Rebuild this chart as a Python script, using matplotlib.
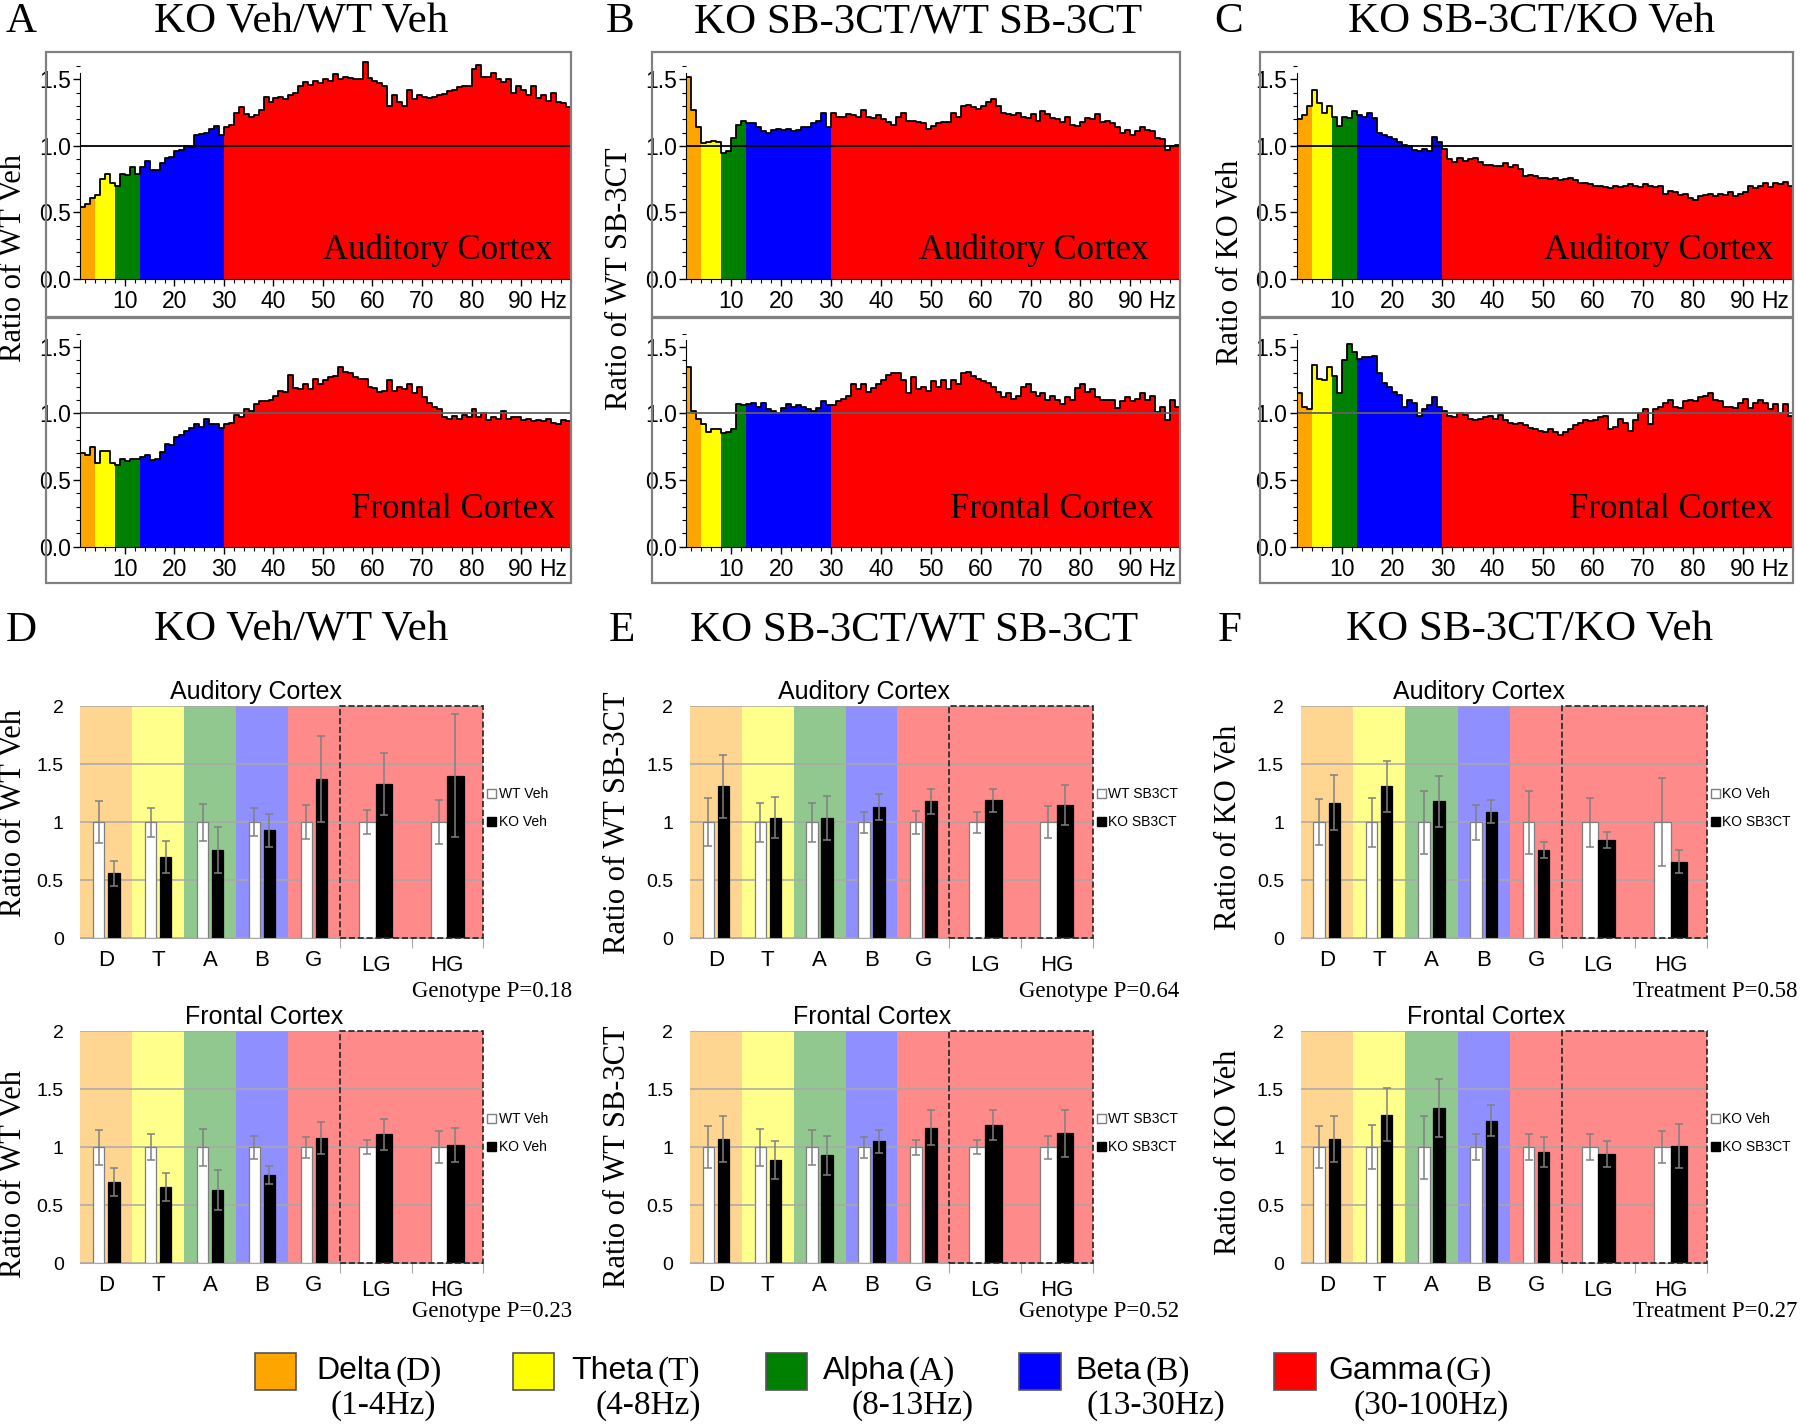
import numpy as np
import matplotlib
matplotlib.use('Agg')
import matplotlib.pyplot as plt
from matplotlib.patches import Rectangle, Patch
from matplotlib.ticker import MultipleLocator, FixedLocator

SERIF = 'Liberation Serif'
SANS = 'Liberation Sans'
plt.rcParams['font.family'] = [SANS, 'DejaVu Sans']

# ---------------- data ----------------
freqs = np.arange(1, 100)          # 1 Hz bins, 1..100 Hz
band_edges = [1, 4, 8, 13, 30, 100]
band_names = ['Delta', 'Theta', 'Alpha', 'Beta', 'Gamma']
band_letters = ['(D)', '(T)', '(A)', '(B)', '(G)']
band_ranges = ['(1-4Hz)', '(4-8Hz)', '(8-13Hz)', '(13-30Hz)', '(30-100Hz)']
band_colors = ['#ffa500', '#ffff00', '#008000', '#0000ff', '#ff0000']
band_light = ['#ffd691', '#ffff8c', '#90c890', '#8f8fff', '#ff8a8a']

a_aud = [0.54, 0.56, 0.61, 0.63, 0.75, 0.79, 0.72, 0.70, 0.79, 0.78,
         0.84, 0.79, 0.84, 0.89, 0.82, 0.82, 0.87, 0.91, 0.92, 0.96,
         0.97, 1.00, 0.99, 1.08, 1.09, 1.10, 1.13, 1.15, 1.08, 1.14,
         1.16, 1.25, 1.29, 1.24, 1.22, 1.23, 1.27, 1.37, 1.33, 1.36,
         1.37, 1.35, 1.38, 1.40, 1.45, 1.48, 1.46, 1.49, 1.47, 1.50,
         1.49, 1.54, 1.50, 1.52, 1.51, 1.50, 1.50, 1.63, 1.51, 1.49,
         1.47, 1.45, 1.30, 1.38, 1.33, 1.30, 1.42, 1.35, 1.38, 1.37,
         1.36, 1.37, 1.38, 1.39, 1.41, 1.42, 1.44, 1.45, 1.45, 1.58,
         1.61, 1.52, 1.52, 1.55, 1.50, 1.48, 1.50, 1.40, 1.45, 1.42,
         1.38, 1.45, 1.36, 1.38, 1.34, 1.40, 1.33, 1.32, 1.29]
a_fro = [0.70, 0.69, 0.75, 0.63, 0.72, 0.72, 0.63, 0.61, 0.66, 0.64,
         0.66, 0.66, 0.67, 0.69, 0.65, 0.66, 0.71, 0.77, 0.76, 0.82,
         0.84, 0.87, 0.89, 0.92, 0.90, 0.96, 0.92, 0.92, 0.89, 0.92,
         0.93, 0.99, 0.97, 1.03, 1.02, 1.07, 1.09, 1.09, 1.10, 1.13,
         1.17, 1.16, 1.29, 1.19, 1.18, 1.22, 1.18, 1.26, 1.22, 1.25,
         1.27, 1.28, 1.35, 1.31, 1.30, 1.27, 1.26, 1.26, 1.20, 1.19,
         1.16, 1.17, 1.25, 1.17, 1.20, 1.18, 1.22, 1.15, 1.20, 1.12,
         1.08, 1.05, 1.03, 0.97, 0.96, 0.98, 0.96, 0.99, 0.97, 1.03,
         0.97, 1.00, 0.95, 0.97, 0.96, 1.02, 0.96, 0.97, 0.97, 0.95,
         0.96, 0.94, 0.95, 0.94, 0.96, 0.93, 0.92, 0.95, 0.94]
b_aud = [1.52, 1.27, 1.14, 1.02, 1.03, 1.04, 1.03, 0.95, 0.96, 1.06,
         1.16, 1.19, 1.17, 1.17, 1.14, 1.11, 1.10, 1.12, 1.13, 1.12,
         1.13, 1.11, 1.12, 1.14, 1.14, 1.17, 1.19, 1.25, 1.14, 1.25,
         1.22, 1.22, 1.24, 1.23, 1.22, 1.27, 1.22, 1.21, 1.23, 1.20,
         1.18, 1.16, 1.22, 1.25, 1.19, 1.19, 1.18, 1.17, 1.13, 1.15,
         1.17, 1.18, 1.18, 1.25, 1.22, 1.30, 1.31, 1.29, 1.28, 1.30,
         1.33, 1.35, 1.30, 1.25, 1.24, 1.23, 1.25, 1.22, 1.21, 1.24,
         1.19, 1.26, 1.24, 1.21, 1.20, 1.18, 1.22, 1.16, 1.15, 1.18,
         1.21, 1.20, 1.24, 1.18, 1.19, 1.17, 1.14, 1.10, 1.12, 1.08,
         1.11, 1.14, 1.12, 1.11, 1.06, 1.05, 0.97, 1.00, 1.01]
b_fro = [1.35, 1.02, 0.96, 0.92, 0.86, 0.88, 0.88, 0.85, 0.86, 0.88,
         1.07, 1.06, 1.07, 1.08, 1.05, 1.08, 1.03, 1.02, 1.00, 1.04,
         1.07, 1.05, 1.06, 1.05, 1.03, 1.02, 1.04, 1.09, 1.06, 1.06,
         1.09, 1.11, 1.13, 1.22, 1.18, 1.22, 1.16, 1.19, 1.22, 1.25,
         1.29, 1.30, 1.30, 1.25, 1.15, 1.27, 1.18, 1.20, 1.17, 1.24,
         1.20, 1.25, 1.18, 1.25, 1.22, 1.30, 1.31, 1.28, 1.26, 1.24,
         1.23, 1.20, 1.16, 1.12, 1.15, 1.11, 1.13, 1.20, 1.22, 1.16,
         1.13, 1.15, 1.10, 1.13, 1.10, 1.07, 1.12, 1.10, 1.19, 1.22,
         1.16, 1.18, 1.12, 1.10, 1.10, 1.10, 1.04, 1.09, 1.12, 1.09,
         1.11, 1.15, 1.10, 1.13, 1.01, 1.05, 0.95, 1.10, 1.05]
c_aud = [1.20, 1.23, 1.30, 1.42, 1.32, 1.25, 1.30, 1.22, 1.15, 1.22,
         1.21, 1.26, 1.23, 1.22, 1.25, 1.21, 1.10, 1.08, 1.07, 1.05,
         1.03, 1.01, 1.00, 0.97, 0.96, 0.98, 0.96, 1.07, 1.03, 0.98,
         0.90, 0.88, 0.91, 0.89, 0.90, 0.91, 0.88, 0.86, 0.86, 0.85,
         0.85, 0.87, 0.84, 0.86, 0.83, 0.77, 0.78, 0.77, 0.76, 0.76,
         0.75, 0.76, 0.74, 0.75, 0.76, 0.74, 0.72, 0.72, 0.71, 0.70,
         0.70, 0.69, 0.68, 0.70, 0.69, 0.70, 0.71, 0.70, 0.69, 0.71,
         0.70, 0.69, 0.70, 0.64, 0.66, 0.65, 0.63, 0.64, 0.61, 0.59,
         0.62, 0.63, 0.64, 0.62, 0.64, 0.63, 0.65, 0.62, 0.64, 0.65,
         0.70, 0.68, 0.70, 0.72, 0.69, 0.72, 0.71, 0.73, 0.70]
c_fro = [1.15, 1.05, 1.03, 1.36, 1.26, 1.25, 1.35, 1.28, 1.15, 1.40,
         1.52, 1.46, 1.41, 1.42, 1.42, 1.43, 1.30, 1.23, 1.20, 1.16,
         1.14, 1.05, 1.10, 1.08, 0.98, 1.03, 1.06, 1.12, 1.05, 1.02,
         0.98, 0.97, 1.00, 0.99, 0.96, 0.95, 0.96, 0.97, 0.98, 0.96,
         0.99, 0.95, 0.93, 0.92, 0.93, 0.91, 0.89, 0.88, 0.87, 0.86,
         0.88, 0.86, 0.84, 0.86, 0.88, 0.91, 0.93, 0.95, 0.94, 0.95,
         0.97, 0.98, 0.88, 0.90, 0.96, 0.93, 0.87, 0.95, 1.00, 1.03,
         0.92, 1.03, 1.05, 1.08, 1.10, 1.05, 1.04, 1.09, 1.10, 1.09,
         1.12, 1.13, 1.15, 1.10, 1.09, 1.05, 1.05, 1.04, 1.08, 1.11,
         1.04, 1.08, 1.10, 1.08, 1.03, 1.07, 1.00, 1.07, 0.98]

bar_cats = ['D', 'T', 'A', 'B', 'G', 'LG', 'HG']
ctl_vals = [1.0, 1.0, 1.0, 1.0, 1.0, 1.0, 1.0]

d_aud_ctl_err = [0.18, 0.125, 0.16, 0.12, 0.145, 0.105, 0.19]
d_aud_vals = [0.56, 0.70, 0.76, 0.93, 1.37, 1.33, 1.40]
d_aud_err = [0.11, 0.14, 0.20, 0.14, 0.37, 0.27, 0.53]
d_fro_ctl_err = [0.15, 0.11, 0.16, 0.10, 0.09, 0.06, 0.14]
d_fro_vals = [0.70, 0.66, 0.63, 0.76, 1.08, 1.11, 1.02]
d_fro_err = [0.12, 0.12, 0.17, 0.08, 0.14, 0.13, 0.15]

e_aud_ctl_err = [0.205, 0.17, 0.17, 0.09, 0.10, 0.09, 0.14]
e_aud_vals = [1.31, 1.04, 1.04, 1.13, 1.18, 1.19, 1.15]
e_aud_err = [0.27, 0.18, 0.19, 0.11, 0.11, 0.10, 0.17]
e_fro_ctl_err = [0.18, 0.16, 0.15, 0.09, 0.065, 0.06, 0.10]
e_fro_vals = [1.07, 0.89, 0.93, 1.05, 1.17, 1.19, 1.12]
e_fro_err = [0.20, 0.16, 0.17, 0.10, 0.15, 0.13, 0.20]

f_aud_ctl_err = [0.20, 0.21, 0.27, 0.15, 0.27, 0.21, 0.38]
f_aud_vals = [1.17, 1.31, 1.18, 1.09, 0.76, 0.85, 0.66]
f_aud_err = [0.24, 0.22, 0.22, 0.10, 0.07, 0.07, 0.10]
f_fro_ctl_err = [0.18, 0.19, 0.27, 0.11, 0.11, 0.11, 0.14]
f_fro_vals = [1.07, 1.28, 1.34, 1.23, 0.96, 0.94, 1.01]
f_fro_err = [0.20, 0.23, 0.25, 0.13, 0.13, 0.11, 0.19]

# ---------------- layout helpers (reference layout units) ----------------
W, H = 1568.0, 1240.0
def fx(x):
    return x / W
def fy(y):
    return 1 - y / H

fig = plt.figure(figsize=(18, 14.24), dpi=100)
fig.patch.set_facecolor('white')


def draw_spectrum(ax, vals, hline_color, region, rx, ry):
    vals = np.asarray(vals)
    idx = np.searchsorted(band_edges, freqs, side='right') - 1
    cols = [band_colors[i] for i in idx]
    ax.bar(freqs, vals, width=1.0, align='edge', color=cols, linewidth=0)
    ax.step(np.append(freqs, 100), np.append(vals, vals[-1]), where='post',
            color='black', lw=1.3)
    ax.axhline(1.0, color=hline_color, lw=1.3)
    ax.set_xlim(1, 100)
    ax.set_ylim(0, 1.664)
    for s in ['top', 'right']:
        ax.spines[s].set_visible(False)
    ax.spines['left'].set_bounds(0, 1.55)
    ax.set_yticks([0, 0.5, 1.0, 1.5])
    ax.set_yticklabels(['0.0', '0.5', '1.0', '1.5'])
    ax.yaxis.set_minor_locator(MultipleLocator(0.1))
    ax.set_xticks([10, 20, 30, 40, 50, 60, 70, 80, 90])
    ax.set_xticklabels(['10', '20', '30', '40', '50', '60', '70', '80', '90'])
    ax.xaxis.set_minor_locator(FixedLocator(list(range(2, 101, 2))))
    ax.tick_params(which='major', length=5, width=1, labelsize=16.5, pad=3)
    ax.tick_params(axis='y', which='major', pad=2)
    ax.tick_params(which='minor', length=3, width=0.8)
    ax.annotate('Hz', xy=(93.6, 0), xycoords='data', xytext=(0, -8),
                textcoords='offset points', fontsize=16.5, ha='left', va='top',
                annotation_clip=False)
    ax.text(rx, ry, region, transform=ax.transAxes, fontsize=25,
            family=SERIF, ha='right', va='center')


spec_panels = [
    ('A', 'KO Veh/WT Veh', 'Ratio of WT Veh', a_aud, a_fro,
     70, 497, 40, 5, 262, 12, 225, (0.962, 0.970)),
    ('B', 'KO SB-3CT/WT SB-3CT', 'Ratio of WT SB-3CT', b_aud, b_fro,
     598, 1028, 568, 528, 800, 540, 243, (0.935, 0.947)),
    ('C', 'KO SB-3CT/KO Veh', 'Ratio of KO Veh', c_aud, c_fro,
     1130, 1562, 1098, 1058, 1334, 1072, 228, (0.960, 0.960)),
]

for (let, title, ylab, aud, fro, x0, x1, bx, lx, tx, ylx, yly, rxs) in spec_panels:
    for (top_px, y0_px) in [(45, 276), (277, 508)]:
        fig.add_artist(Rectangle((fx(bx), fy(y0_px)), fx(x1) - fx(bx),
                                 fy(top_px) - fy(y0_px), transform=fig.transFigure,
                                 fill=False, ec='#808080', lw=1.6))
    ax1 = fig.add_axes([fx(x0), fy(243), fx(x1) - fx(x0), fy(50) - fy(243)])
    draw_spectrum(ax1, aud, 'black', 'Auditory Cortex', rxs[0], 0.13)
    ax2 = fig.add_axes([fx(x0), fy(476), fx(x1) - fx(x0), fy(283) - fy(476)])
    draw_spectrum(ax2, fro, '#606060', 'Frontal Cortex', rxs[1], 0.166)
    fig.text(fx(lx), fy(19), let, fontsize=31, family=SERIF, ha='left', va='center')
    fig.text(fx(tx), fy(19), title, fontsize=31, family=SERIF, ha='center', va='center')
    fig.text(fx(ylx), fy(yly), ylab, fontsize=22, family=SERIF, rotation=90,
             ha='center', va='center')

# ---------------- bar panels ----------------
gx = np.array([0, 1, 2, 3, 4, 5.19, 6.57])
bw = np.array([0.22, 0.22, 0.22, 0.22, 0.22, 0.32, 0.32])
boff = np.array([0.145, 0.145, 0.145, 0.145, 0.145, 0.16, 0.16])
x_end = 4.5 + 2 * 1.383


def draw_bars(ax, ctl_err, vals, err, labels, leg_y):
    spans = [(-0.5, 0.5), (0.5, 1.5), (1.5, 2.5), (2.5, 3.5), (3.5, x_end)]
    for (a, b), c in zip(spans, band_light):
        ax.axvspan(a, b, color=c, lw=0, zorder=0.1)
    ax.bar(gx - boff, ctl_vals, width=bw, color='white', edgecolor='#7f7f7f',
           lw=0.9, zorder=2, yerr=ctl_err,
           error_kw=dict(ecolor='#808080', elinewidth=1.1, capsize=3, capthick=1.1))
    ax.bar(gx + boff, vals, width=bw, color='black', edgecolor='black',
           lw=0.9, zorder=2, yerr=err,
           error_kw=dict(ecolor='#808080', elinewidth=1.1, capsize=3, capthick=1.1))
    ax.add_patch(Rectangle((4.5, 0), x_end - 4.5, 2, fill=False, ls='--',
                           ec='#222222', lw=1.2, zorder=3, clip_on=False))
    ax.set_xlim(-0.5, x_end)
    ax.set_ylim(0, 2)
    ax.set_yticks([0, 0.5, 1, 1.5, 2])
    ax.set_yticklabels(['0', '0.5', '1', '1.5', '2'])
    ax.set_axisbelow(True)
    ax.yaxis.grid(True, color='#a8a8a8', lw=1.1, zorder=0.5)
    for s in ['top', 'right', 'left']:
        ax.spines[s].set_visible(False)
    ax.spines['bottom'].set_color('#a8a8a8')
    ax.set_xticks([4.5, 4.5 + 1.383, x_end])
    ax.set_xticklabels([])
    ax.tick_params(axis='x', length=7, color='#a8a8a8')
    ax.tick_params(axis='y', length=0, labelsize=14, pad=12)
    for i, c in enumerate(bar_cats):
        yy = -0.19 if i < 5 else -0.235
        ax.text(gx[i], yy, c, fontsize=16, ha='center', va='center', clip_on=False)
    ax.legend(handles=[Patch(facecolor='white', edgecolor='#7f7f7f'),
                       Patch(facecolor='black', edgecolor='black')],
              labels=labels, loc='center left', bbox_to_anchor=(1.0, leg_y),
              frameon=False, fontsize=10, handlelength=0.65, handleheight=0.65,
              handletextpad=0.15, labelspacing=1.0, borderaxespad=0.1,
              borderpad=0.2)


bar_panels = [
    ('D', 'KO Veh/WT Veh', 'Ratio of WT Veh', ('WT Veh', 'KO Veh'), 'Genotype',
     ('0.18', '0.23'), d_aud_ctl_err, d_aud_vals, d_aud_err,
     d_fro_ctl_err, d_fro_vals, d_fro_err,
     70, 351, 5, 262, 12, (708, 1022), 498, (223, 230)),
    ('E', 'KO SB-3CT/WT SB-3CT', 'Ratio of WT SB-3CT', ('WT SB3CT', 'KO SB3CT'),
     'Genotype', ('0.64', '0.52'), e_aud_ctl_err, e_aud_vals, e_aud_err,
     e_fro_ctl_err, e_fro_vals, e_fro_err,
     601, 351, 530, 796, 538, (716, 1007), 1027, (753, 760)),
    ('F', 'KO SB-3CT/KO Veh', 'Ratio of KO Veh', ('KO Veh', 'KO SB3CT'),
     'Treatment', ('0.58', '0.27'), f_aud_ctl_err, f_aud_vals, f_aud_err,
     f_fro_ctl_err, f_fro_vals, f_fro_err,
     1133, 354, 1061, 1332, 1070, (720, 1003), 1566, (1288, 1295)),
]

for (let, title, ylab, legl, ptype, pvals, ace, av, ae, fce, fv, fe,
     x0, wpx, lx, tx, ylx, ylys, prx, ttx) in bar_panels:
    fig.text(fx(lx), fy(549), let, fontsize=31, family=SERIF, ha='left', va='center')
    fig.text(fx(tx), fy(549), title, fontsize=31, family=SERIF, ha='center', va='center')
    rows = [(817, 603, 863, ace, av, ae, 'Auditory Cortex', ylys[0], pvals[0], ttx[0]),
            (1100, 886, 1142, fce, fv, fe, 'Frontal Cortex', ylys[1], pvals[1], ttx[1])]
    for (y0, ty, py, ce, v, e, region, yly, pv, tcx) in rows:
        ax = fig.add_axes([fx(x0), fy(y0), wpx / W, 202 / H])
        draw_bars(ax, ce, v, e, legl, 0.56)
        fig.text(fx(tcx), fy(ty), region, fontsize=18, ha='center', va='center')
        fig.text(fx(ylx), fy(yly), ylab, fontsize=22, family=SERIF, rotation=90,
                 ha='center', va='center')
        fig.text(fx(prx), fy(py), ptype + ' P=' + pv, fontsize=16.5, family=SERIF,
                 ha='right', va='center')

# ---------------- band legend ----------------
sq_x = [222, 447, 667, 888, 1110]
name_x = [276, 498, 717, 937, 1157]
range_cx = [334, 565, 795, 1007, 1247]
renderer = fig.canvas.get_renderer()
for i in range(5):
    fig.add_artist(Rectangle((fx(sq_x[i]), fy(1210)), 36 / W, 32 / H,
                             transform=fig.transFigure, fc=band_colors[i],
                             ec='#555555', lw=1.2))
    t = fig.text(fx(name_x[i]), fy(1194), band_names[i], fontsize=23,
                 ha='left', va='center')
    bb = t.get_window_extent(renderer=renderer)
    x_end_fig = bb.x1 / fig.bbox.width
    fig.text(x_end_fig + 0.002, fy(1194), band_letters[i], fontsize=24,
             family=SERIF, ha='left', va='center')
    fig.text(fx(range_cx[i]), fy(1224), band_ranges[i], fontsize=24,
             family=SERIF, ha='center', va='center')

fig.savefig('out.png', dpi=100, facecolor='white')
